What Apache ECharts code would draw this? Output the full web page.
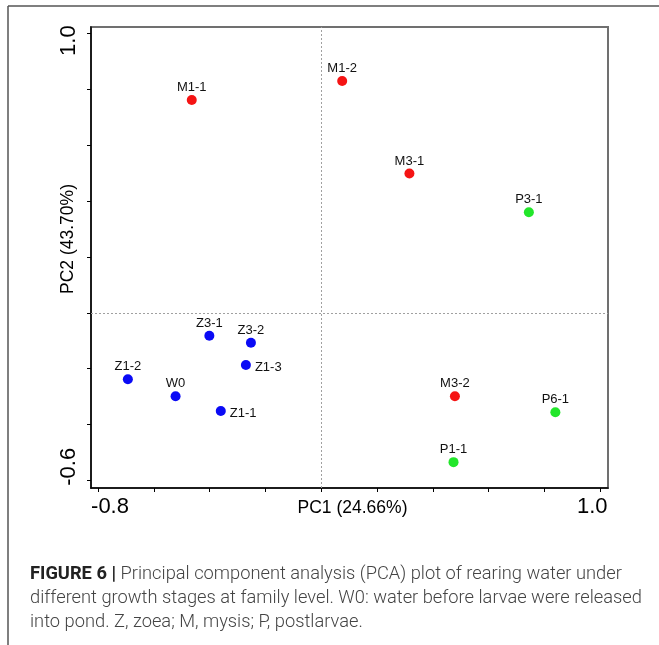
<!DOCTYPE html>
<html><head><meta charset="utf-8">
<script src="https://cdn.jsdelivr.net/npm/echarts/dist/echarts.min.js"></script>
<style>html,body{margin:0;padding:0;background:#fff}#c{width:659px;height:645px}</style>
</head><body><div id="c"></div>
<script>
// ---- data ----
const sampleNames = ['M1-1','M1-2','M3-1','P3-1','Z3-1','Z3-2','Z1-3','Z1-2','W0','Z1-1','M3-2','P6-1','P1-1'];
const pc1Values   = [-0.464, 0.075, 0.316, 0.744, -0.401, -0.252, -0.270, -0.693, -0.522, -0.360, 0.479, 0.839, 0.474];
const pc2Values   = [ 0.762, 0.830, 0.499, 0.360, -0.082, -0.107, -0.187, -0.238, -0.299, -0.352, -0.299, -0.356, -0.535];
const stageGroups = ['M','M','M','P','Z','Z','Z','Z','Z','Z','M','P','P'];
const groupOrder  = ['Z','M','P'];
const xTickValues = [-0.8,-0.6,-0.4,-0.2,0,0.2,0.4,0.6,0.8,1.0];
const yTickValues = [-0.6,-0.4,-0.2,0,0.2,0.4,0.6,0.8,1.0];
const xLabelValues = [-0.8, 1.0];
const yLabelValues = [-0.6, 1.0];
const xAxisTitle = 'PC1 (24.66%)';
const yAxisTitle = 'PC2 (43.70%)';
const captionBold = 'FIGURE 6 |';
const captionLines = [
  'Principal component analysis (PCA) plot of rearing water under',
  'different growth stages at family level. W0: water before larvae were released',
  'into pond. Z, zoea; M, mysis; P, postlarvae.'
];

// ---- styles ----
const groupColors = {Z:'#0a0af5', M:'#f51414', P:'#22e62a'};
const rightLabelled = ['Z1-3','Z1-1'];
const FONT = '"Liberation Sans", Arial, sans-serif';
const CAPFONT = 'Roboto, sans-serif';

const series = groupOrder.map((g, gi) => {
  const data = [];
  sampleNames.forEach((n, i) => {
    if (stageGroups[i] !== g) return;
    const item = {name: n, value: [pc1Values[i], pc2Values[i]]};
    if (rightLabelled.includes(n)) {
      item.label = {position: 'right', distance: 4, offset: [0, 2]};
    }
    data.push(item);
  });
  const s = {
    type: 'scatter', name: g, data: data, symbolSize: 10,
    itemStyle: {color: groupColors[g], opacity: 1},
    label: {show: true, position: 'top', distance: 1, formatter: p => p.name,
            color: '#111', fontSize: 13, fontFamily: FONT},
    emphasis: {disabled: true}, z: 5
  };
  if (gi === 0) {
    s.markLine = {
      silent: true, symbol: 'none', label: {show: false}, animation: false,
      lineStyle: {color: '#a0a0a0', type: [2, 2], width: 1},
      data: [{xAxis: 0}, {yAxis: 0}]
    };
  }
  return s;
});

const chart = echarts.init(document.getElementById('c'), null, {renderer: 'canvas'});
chart.setOption({
  animation: false,
  backgroundColor: '#fff',
  title: {
    left: 25, top: 557,
    text: '{b|' + captionBold + '}{n| ' + captionLines[0] + '}\n' + captionLines.slice(1).map(l => '{n|' + l + '}').join('\n'),
    textStyle: {
      lineHeight: 24, fontWeight: 'normal',
      rich: {
        b: {fontFamily: CAPFONT, fontWeight: 'bold', fontSize: 18.3, color: '#222', lineHeight: 24},
        n: {fontFamily: CAPFONT, fontWeight: 300, fontSize: 18.3, color: '#444', lineHeight: 24}
      }
    }
  },
  graphic: [
    {type: 'line', shape: {x1: 8, y1: 6, x2: 659, y2: 6}, style: {stroke: '#555', lineWidth: 1.5}},
    {type: 'line', shape: {x1: 8, y1: 6, x2: 8, y2: 645}, style: {stroke: '#555', lineWidth: 1.5}}
  ],
  grid: {left: 91, top: 27, width: 517, height: 461, show: true, borderColor: '#707070', borderWidth: 2,
         containLabel: false, outerBoundsMode: 'none'},
  xAxis: {
    type: 'value', min: -0.8251, max: 1.0276,
    splitLine: {show: false},
    axisLine: {show: true, onZero: false, lineStyle: {color: '#000', width: 1.5}},
    axisTick: {show: true, customValues: xTickValues, length: 4, lineStyle: {color: '#000', width: 1}},
    axisLabel: {
      show: true, customValues: xLabelValues, margin: 8,
      formatter: v => (v < 0 ? '{l|' : '{r|') + v.toFixed(1) + '}',
      rich: {
        l: {fontSize: 22, fontFamily: FONT, color: '#000', padding: [0, 0, 0, 24]},
        r: {fontSize: 22, fontFamily: FONT, color: '#000', padding: [0, 16, 0, 0]}
      }
    },
    name: xAxisTitle, nameLocation: 'middle', nameGap: 11, nameMoveOverlap: false,
    nameTextStyle: {fontSize: 17.5, fontFamily: FONT, color: '#000', padding: [0, 0, 0, 6]}
  },
  yAxis: {
    type: 'value', min: -0.6276, max: 1.0237,
    splitLine: {show: false},
    axisLine: {show: true, onZero: false, lineStyle: {color: '#000', width: 1.5}},
    axisTick: {show: true, customValues: yTickValues, length: 4, lineStyle: {color: '#000', width: 1}},
    axisLabel: {
      show: true, customValues: yLabelValues, rotate: 90, margin: 11,
      formatter: v => (v < 0 ? '{b|' : '{t|') + v.toFixed(1) + '}',
      rich: {
        b: {fontSize: 22, fontFamily: FONT, color: '#000', padding: [0, 0, 0, 27]},
        t: {fontSize: 22, fontFamily: FONT, color: '#000', padding: [0, 14, 0, 0]}
      }
    },
    name: yAxisTitle, nameLocation: 'middle', nameRotate: 90, nameGap: 14, nameMoveOverlap: false,
    nameTextStyle: {fontSize: 17.5, fontFamily: FONT, color: '#000', padding: [0, 0, 0, 37]}
  },
  series: series
});
</script></body></html>
